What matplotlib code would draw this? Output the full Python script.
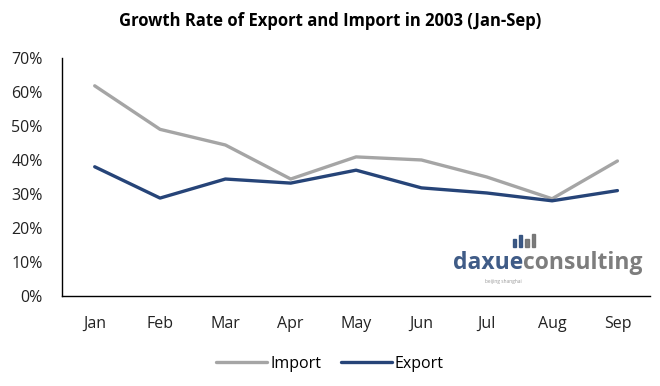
import matplotlib.pyplot as plt
from matplotlib.ticker import PercentFormatter

plt.rcParams['font.family'] = ['Open Sans', 'DejaVu Sans']

months = ['Jan', 'Feb', 'Mar', 'Apr', 'May', 'Jun', 'Jul', 'Aug', 'Sep']
imports = [61.8, 49.0, 44.4, 34.4, 40.9, 40.0, 35.0, 28.6, 39.7]
exports = [38.0, 28.8, 34.4, 33.2, 37.0, 31.8, 30.3, 28.0, 31.0]

fig = plt.figure(figsize=(6.6, 3.86), dpi=100)
ax = fig.add_axes([0.094, 0.233, 0.891, 0.617])

x = range(len(months))
ax.plot(x, imports, color='#A5A5A5', lw=2.4, label='Import', solid_capstyle='round')
ax.plot(x, exports, color='#264478', lw=2.4, label='Export', solid_capstyle='round')

ax.set_xlim(-0.5, len(months) - 0.5)
ax.set_ylim(0, 70)
ax.set_yticks(range(0, 71, 10))
ax.yaxis.set_major_formatter(PercentFormatter(decimals=0))
ax.set_xticks(list(x))
ax.set_xticklabels(months)
ax.tick_params(length=0, labelsize=11.5, colors='#222222')
ax.tick_params(axis='y', pad=14)
ax.tick_params(axis='x', pad=14)
for s in ['top', 'right']:
    ax.spines[s].set_visible(False)
for s in ['left', 'bottom']:
    ax.spines[s].set_color('black')
    ax.spines[s].set_linewidth(1.0)

fig.text(0.5, 0.945, 'Growth Rate of Export and Import in 2003 (Jan-Sep)',
         ha='center', va='center', fontsize=12, fontweight='bold')

fig.legend(loc='center', bbox_to_anchor=(0.5, 0.058), ncol=2, frameon=False,
           fontsize=11.5, handlelength=3.2, handletextpad=0.2, columnspacing=1.2)

# watermark
blue, grey = '#2B4A7A', '#6F6F6F'
fig.text(0.793, 0.302, 'daxue', color=blue, fontsize=16.5, fontweight='bold',
         ha='right', va='baseline', alpha=0.9)
fig.text(0.793, 0.302, 'consulting', color=grey, fontsize=16.5, fontweight='bold',
         ha='left', va='baseline', alpha=0.9)
fig.text(0.763, 0.272, 'beijing shanghai', color='#999999', fontsize=3.5, ha='center', va='center')
bar_h = [0.02, 0.03, 0.022, 0.033]
for i, h in enumerate(bar_h):
    fig.patches.append(plt.Rectangle((0.777 + i * 0.0095, 0.36), 0.005, h,
                                     transform=fig.transFigure,
                                     color=blue if i < 2 else grey, alpha=0.9))

fig.savefig('out.png', dpi=100)
